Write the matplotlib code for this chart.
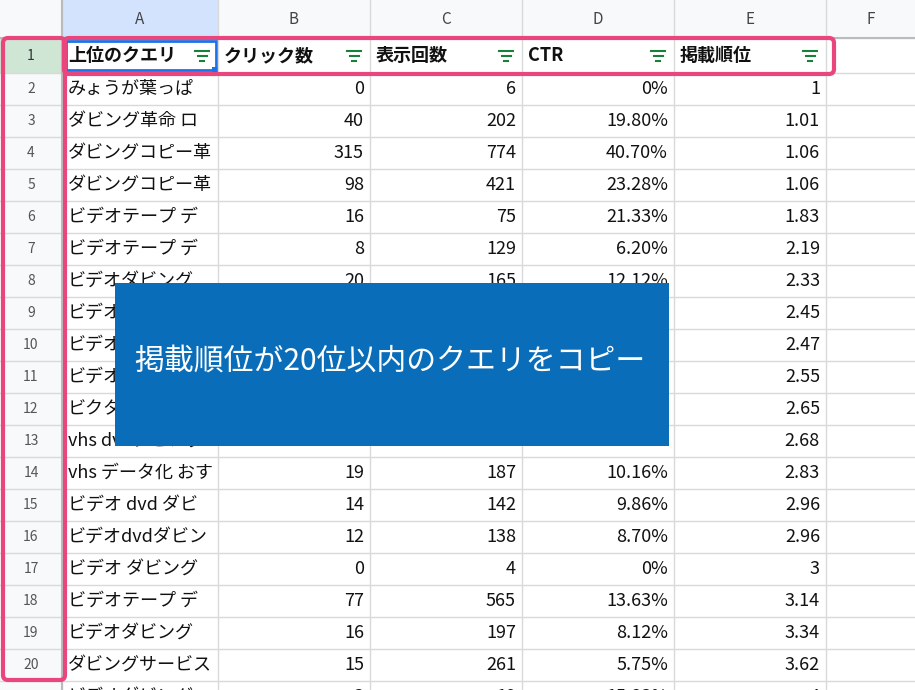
import matplotlib
matplotlib.use("Agg")
import matplotlib.pyplot as plt
from matplotlib.patches import Rectangle, FancyBboxPatch

plt.rcParams["font.family"] = ["Noto Sans CJK JP", "DejaVu Sans"]

col_letters = ["A", "B", "C", "D", "E", "F"]
headers = ["上位のクエリ", "クリック数", "表示回数", "CTR", "掲載順位"]
queries = ["みょうが葉っぱ", "ダビング革命 ロ", "ダビングコピー革", "ダビングコピー革", "ビデオテープ デ",
           "ビデオテープ デ", "ビデオダビング", "ビデオ", "ビデオ", "ビデオ", "ビクター",
           "vhs dvdダビング", "vhs データ化 おす", "ビデオ dvd ダビ", "ビデオdvdダビン",
           "ビデオ ダビング", "ビデオテープ デ", "ビデオダビング", "ダビングサービス", "ビデオダビング"]
clicks = ["0", "40", "315", "98", "16", "8", "20", "", "", "", "", "38", "19", "14", "12", "0", "77", "16", "15", "3"]
imps = ["6", "202", "774", "421", "75", "129", "165", "", "", "", "", "337", "187", "142", "138", "4", "565", "197", "261", "19"]
ctr = ["0%", "19.80%", "40.70%", "23.28%", "21.33%", "6.20%", "12.12%", "", "", "", "", "11.28%", "10.16%",
       "9.86%", "8.70%", "0%", "13.63%", "8.12%", "5.75%", "15.83%"]
rank = ["1", "1.01", "1.06", "1.06", "1.83", "2.19", "2.33", "2.45", "2.47", "2.55", "2.65", "2.68", "2.83",
        "2.96", "2.96", "3", "3.14", "3.34", "3.62", "4"]
overlay_text = "掲載順位が20位以内のクエリをコピー"

W, H = 915, 690
fig = plt.figure(figsize=(9.15, 6.9), dpi=100)
ax = fig.add_axes([0, 0, 1, 1])
ax.set_xlim(0, W); ax.set_ylim(H, 0); ax.axis("off")

xb = [0, 62, 218, 370, 522, 674, 826, 915]
top_h = 38
row_h = 32
row1_top, row1_bot = 38, 73
grid = "#d9d9d9"

ax.add_patch(Rectangle((0, 0), W, top_h, fc="#f8f9fa", ec="none"))
ax.add_patch(Rectangle((62, 0), 156, top_h, fc="#d3e3fd", ec="none"))
ax.add_patch(Rectangle((0, top_h), 62, H, fc="#f8f9fa", ec="none"))
ax.add_patch(Rectangle((0, row1_top), 62, row1_bot - row1_top, fc="#cfe6d4", ec="none"))
for i, L in enumerate(col_letters):
    ax.text((xb[i + 1] + xb[i + 2]) / 2, 19, L, ha="center", va="center", fontsize=11, color="#444")
for x in xb[1:-1]:
    ax.plot([x, x], [0, H], color=grid, lw=1)
ys = [top_h, row1_bot] + [row1_bot + row_h * k for k in range(1, 21)]
for y in ys:
    ax.plot([0, W], [y, y], color=grid, lw=1)
ax.plot([62, 62], [0, H], color="#bbb", lw=1.5)
ax.plot([0, W], [top_h, top_h], color="#bbb", lw=1.5)

ax.text(31, (row1_top + row1_bot) / 2, "1", ha="center", va="center", fontsize=10, color="#333")
for k in range(20):
    yc = row1_bot + row_h * k + row_h / 2
    ax.text(31, yc, str(k + 2), ha="center", va="center", fontsize=10, color="#555")

yh = (row1_top + row1_bot) / 2
for i, h in enumerate(headers):
    ax.text(xb[i + 1] + 6, yh, h, ha="left", va="center", fontsize=13, fontweight="bold", color="#111")
    fx = xb[i + 2] - 16
    for w, dy in [(14, -5), (9, 0), (4, 5)]:
        ax.plot([fx - w / 2, fx + w / 2], [yh + dy, yh + dy], color="#188038", lw=1.5)
ax.add_patch(Rectangle((66, row1_top + 3), 150, row1_bot - row1_top - 6, fc="none", ec="#1a73e8", lw=2))
ax.add_patch(Rectangle((212, row1_bot - 6), 6, 6, fc="#1a73e8", ec="none"))

clipA = Rectangle((62, 0), 154, H, transform=ax.transData)
for k in range(20):
    yc = row1_bot + row_h * k + row_h / 2
    t = ax.text(xb[1] + 6, yc, queries[k], ha="left", va="center", fontsize=13, color="#111")
    t.set_clip_path(clipA)
    for j, col in enumerate([clicks, imps, ctr, rank]):
        ax.text(xb[j + 3] - 6, yc, col[k], ha="right", va="center", fontsize=13, color="#111")

ax.add_patch(Rectangle((115, 283), 554, 163, fc="#0a6db9", ec="none", zorder=5))
ax.text(390, 362, overlay_text, ha="center", va="center", fontsize=21.5, color="white", zorder=6)

pink = "#e8467c"
ax.add_patch(FancyBboxPatch((64, 38), 770, 36, boxstyle="round,pad=0,rounding_size=5",
                            fc="none", ec=pink, lw=3, zorder=7))
ax.add_patch(FancyBboxPatch((3, 38), 62, 642, boxstyle="round,pad=0,rounding_size=5",
                            fc="none", ec=pink, lw=3, zorder=7))

fig.savefig("out.png", dpi=100)
